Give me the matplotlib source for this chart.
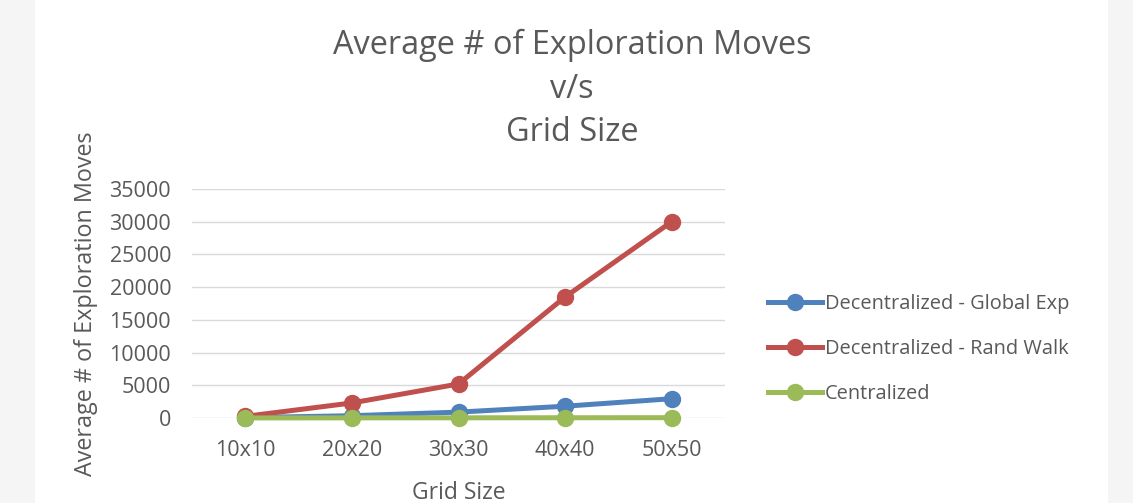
import matplotlib.pyplot as plt
from matplotlib.patches import Rectangle

# data
grid_sizes = ["10x10", "20x20", "30x30", "40x40", "50x50"]
global_exp = [60, 350, 900, 1800, 2950]
rand_walk = [250, 2300, 5200, 18500, 30000]
centralized = [10, 20, 30, 40, 50]

plt.rcParams['font.family'] = ['Open Sans', 'DejaVu Sans']
text_col = "#595959"

fig = plt.figure(figsize=(11.33, 5.03), dpi=100, facecolor="#f5f5f5")
# white chart area behind everything
fig.add_artist(Rectangle((35 / 1133, 0), (1108 - 35) / 1133, 1,
                         transform=fig.transFigure, facecolor="white",
                         edgecolor="none", zorder=-10))

ax = fig.add_axes([192 / 1133, 1 - 418 / 503, (725 - 192) / 1133, (418 - 189) / 503])
ax.set_facecolor("none")

x = range(len(grid_sizes))
ax.plot(x, global_exp, color="#4f81bd", lw=3.6, marker="o", ms=11.5, label="Decentralized - Global Exp",
        zorder=3, clip_on=False)
ax.plot(x, rand_walk, color="#c0504d", lw=3.6, marker="o", ms=11.5, label="Decentralized - Rand Walk",
        zorder=3, clip_on=False)
ax.plot(x, centralized, color="#9bbb59", lw=3.6, marker="o", ms=11.5, label="Centralized",
        zorder=4, clip_on=False)

ax.set_xlim(-0.5, 4.5)
ax.set_ylim(0, 35000)
ax.set_yticks(range(0, 35001, 5000))
ax.set_xticks(list(x))
ax.set_xticklabels(grid_sizes)
ax.grid(axis="y", color="#d9d9d9", lw=1)
ax.set_axisbelow(True)
for s in ax.spines.values():
    s.set_visible(False)
ax.tick_params(length=0, labelsize=15.5, colors=text_col, pad=15)
ax.tick_params(axis="x", pad=16)

ax.set_xlabel("Grid Size", fontsize=16.5, color=text_col, labelpad=14)
ax.set_ylabel("Average # of Exploration Moves", fontsize=16.8, color=text_col, labelpad=8)

fig.text(0.5 * (333 + 811) / 1133, 1 - 89 / 503, "Average # of Exploration Moves\nv/s\nGrid Size",
         ha="center", va="center", fontsize=23.4, color=text_col, linespacing=1.43)

ax.legend(loc="center left", bbox_to_anchor=(750 / 1133, 1 - 349 / 503), bbox_transform=fig.transFigure,
          frameon=False, fontsize=14.4, labelcolor=text_col, handlelength=2.7, handletextpad=0.15,
          labelspacing=1.25)

fig.savefig("out.png", dpi=100, facecolor=fig.get_facecolor())
